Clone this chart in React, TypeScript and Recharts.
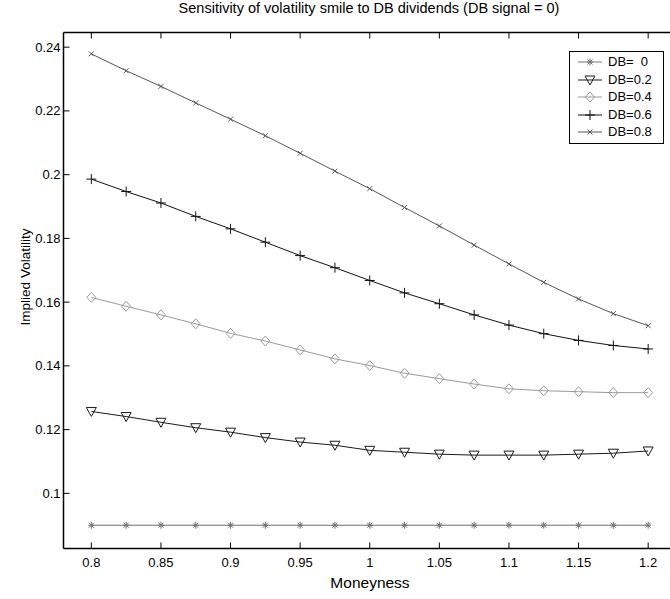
import React from "react";
import { LineChart, Line, XAxis, YAxis, Customized } from "recharts";

const FONT = "'Liberation Sans', Arial, Helvetica, sans-serif";

const moneyness = [0.8, 0.825, 0.85, 0.875, 0.9, 0.925, 0.95, 0.975, 1.0, 1.025, 1.05, 1.075, 1.1, 1.125, 1.15, 1.175, 1.2];

const db00 = [0.09, 0.09, 0.09, 0.09, 0.09, 0.09, 0.09, 0.09, 0.09, 0.09, 0.09, 0.09, 0.09, 0.09, 0.09, 0.09, 0.09];
const db02 = [0.1257, 0.1241, 0.1223, 0.1206, 0.1192, 0.1175, 0.1161, 0.1151, 0.1135, 0.1129, 0.1123, 0.112, 0.112, 0.112, 0.1123, 0.1126, 0.1133];
const db04 = [0.1615, 0.1587, 0.156, 0.1532, 0.1502, 0.1478, 0.145, 0.1422, 0.1401, 0.1377, 0.136, 0.1343, 0.1328, 0.1322, 0.1319, 0.1316, 0.1316];
const db06 = [0.1986, 0.1947, 0.1911, 0.1869, 0.183, 0.1788, 0.1746, 0.1708, 0.1668, 0.1629, 0.1595, 0.156, 0.1528, 0.1501, 0.148, 0.1464, 0.1453];
const db08 = [0.2379, 0.2326, 0.2277, 0.2225, 0.2174, 0.2122, 0.2067, 0.2011, 0.1956, 0.1897, 0.1839, 0.1779, 0.172, 0.1662, 0.161, 0.1564, 0.1526];

const xTicks = [0.8, 0.85, 0.9, 0.95, 1, 1.05, 1.1, 1.15, 1.2];
const yTicks = [0.1, 0.12, 0.14, 0.16, 0.18, 0.2, 0.22, 0.24];

type MarkerKind = "star" | "triDown" | "diamond" | "plus" | "cross";

const series: { key: string; name: string; color: string; marker: MarkerKind; values: number[] }[] = [
  { key: "db00", name: "DB=  0", color: "#707070", marker: "star", values: db00 },
  { key: "db02", name: "DB=0.2", color: "#1a1a1a", marker: "triDown", values: db02 },
  { key: "db04", name: "DB=0.4", color: "#9a9a9a", marker: "diamond", values: db04 },
  { key: "db06", name: "DB=0.6", color: "#111111", marker: "plus", values: db06 },
  { key: "db08", name: "DB=0.8", color: "#555555", marker: "cross", values: db08 },
];

const data = moneyness.map((m, i) => {
  const row: Record<string, number> = { m };
  series.forEach((s) => (row[s.key] = s.values[i]));
  return row;
});

function Marker({ kind, cx, cy, color }: { kind: MarkerKind; cx: number; cy: number; color: string }) {
  const p = { stroke: color, strokeWidth: 1, fill: "none" };
  switch (kind) {
    case "star":
      return (
        <g {...p}>
          <line x1={cx - 3} y1={cy} x2={cx + 3} y2={cy} />
          <line x1={cx} y1={cy - 3.5} x2={cx} y2={cy + 3.5} />
          <line x1={cx - 2.5} y1={cy - 2.5} x2={cx + 2.5} y2={cy + 2.5} />
          <line x1={cx - 2.5} y1={cy + 2.5} x2={cx + 2.5} y2={cy - 2.5} />
        </g>
      );
    case "triDown":
      return <polygon {...p} points={`${cx - 5},${cy - 4} ${cx + 5},${cy - 4} ${cx},${cy + 5}`} />;
    case "diamond":
      return <polygon {...p} points={`${cx},${cy - 5} ${cx + 4.5},${cy} ${cx},${cy + 5} ${cx - 4.5},${cy}`} />;
    case "plus":
      return (
        <g {...p}>
          <line x1={cx - 5} y1={cy} x2={cx + 5} y2={cy} />
          <line x1={cx} y1={cy - 5} x2={cx} y2={cy + 5} />
        </g>
      );
    default:
      return (
        <g {...p}>
          <line x1={cx - 2.5} y1={cy - 2.5} x2={cx + 2.5} y2={cy + 2.5} />
          <line x1={cx - 2.5} y1={cy + 2.5} x2={cx + 2.5} y2={cy - 2.5} />
        </g>
      );
  }
}

function LegendBox() {
  return (
    <div
      style={{
        position: "absolute",
        left: 569,
        top: 51,
        width: 93,
        height: 91,
        border: "1px solid #000",
        background: "#fff",
        fontFamily: FONT,
        fontSize: 13,
        color: "#000",
      }}
    >
      {series.map((s, i) => (
        <div key={s.key} style={{ position: "absolute", left: 0, top: 1 + i * 17.6, height: 17.6, width: 93 }}>
          <svg width={34} height={18} style={{ position: "absolute", left: 6, top: 0 }}>
            <line x1={2} y1={9} x2={26} y2={9} stroke={s.color} strokeWidth={1} />
            <Marker kind={s.marker} cx={14} cy={9} color={s.color} />
          </svg>
          <span style={{ position: "absolute", left: 38, top: 1, whiteSpace: "pre", lineHeight: "16px" }}>{s.name}</span>
        </div>
      ))}
    </div>
  );
}

// inward tick marks (MATLAB style) with labels outside
const BottomTick = (props: any) => {
  const { x, y, payload } = props;
  return (
    <g>
      <line x1={x} y1={y} x2={x} y2={y - 6} stroke="#000" />
      <text x={x} y={y + 18} textAnchor="middle" fontSize={13} fontFamily={FONT} fill="#000">
        {String(payload.value)}
      </text>
    </g>
  );
};

const TopTick = (props: any) => {
  const { x, y } = props;
  return <line x1={x} y1={y} x2={x} y2={y + 6} stroke="#000" />;
};

const LeftTick = (props: any) => {
  const { x, y, payload } = props;
  return (
    <g>
      <line x1={x} y1={y} x2={x + 6} y2={y} stroke="#000" />
      <text x={x - 3} y={y + 4.5} textAnchor="end" fontSize={13} fontFamily={FONT} fill="#000">
        {String(payload.value)}
      </text>
    </g>
  );
};

const axisLineStyle = { stroke: "#000", strokeWidth: 1.5 };

export default function App() {
  return (
    <div style={{ position: "absolute", left: 0, top: 0, width: 670, height: 599, overflow: "hidden", background: "#fff" }}>
      <LineChart width={670} height={599} data={data} margin={{ top: 31.5, right: -6, bottom: 0, left: 0 }}>
        <XAxis
          xAxisId="b"
          dataKey="m"
          type="number"
          domain={[0.78, 1.22]}
          ticks={xTicks}
          allowDataOverflow
          height={50.5}
          tickSize={0}
          tickMargin={0}
          axisLine={axisLineStyle}
          tickLine={false}
          tick={BottomTick}
        />
        <XAxis
          xAxisId="t"
          orientation="top"
          dataKey="m"
          type="number"
          domain={[0.78, 1.22]}
          ticks={xTicks}
          allowDataOverflow
          height={1}
          tickSize={0}
          tickMargin={0}
          axisLine={axisLineStyle}
          tickLine={false}
          tick={TopTick}
        />
        <YAxis
          domain={[0.0827, 0.2446]}
          ticks={yTicks}
          allowDataOverflow
          width={63.5}
          tickSize={0}
          tickMargin={0}
          axisLine={axisLineStyle}
          tickLine={false}
          tick={LeftTick}
        />
        {series.map((s) => (
          <Line
            key={s.key}
            xAxisId="b"
            dataKey={s.key}
            type="linear"
            stroke={s.color}
            strokeWidth={1}
            isAnimationActive={false}
            dot={(props: any) => (
              <Marker key={`${s.key}-${props.index}`} kind={s.marker} cx={props.cx} cy={props.cy} color={s.color} />
            )}
            activeDot={false}
          />
        ))}
        <Customized
          component={() => (
            <g fontFamily={FONT} fill="#000">
              <text x={369} y={13} fontSize={14.5} textAnchor="middle">
                Sensitivity of volatility smile to DB dividends (DB signal = 0)
              </text>
              <text x={370} y={588} fontSize={15.5} textAnchor="middle">
                Moneyness
              </text>
              <text x={30} y={277} fontSize={13.5} textAnchor="middle" transform="rotate(-90 30 277)">
                Implied Volatility
              </text>
            </g>
          )}
        />
      </LineChart>
      <LegendBox />
    </div>
  );
}
